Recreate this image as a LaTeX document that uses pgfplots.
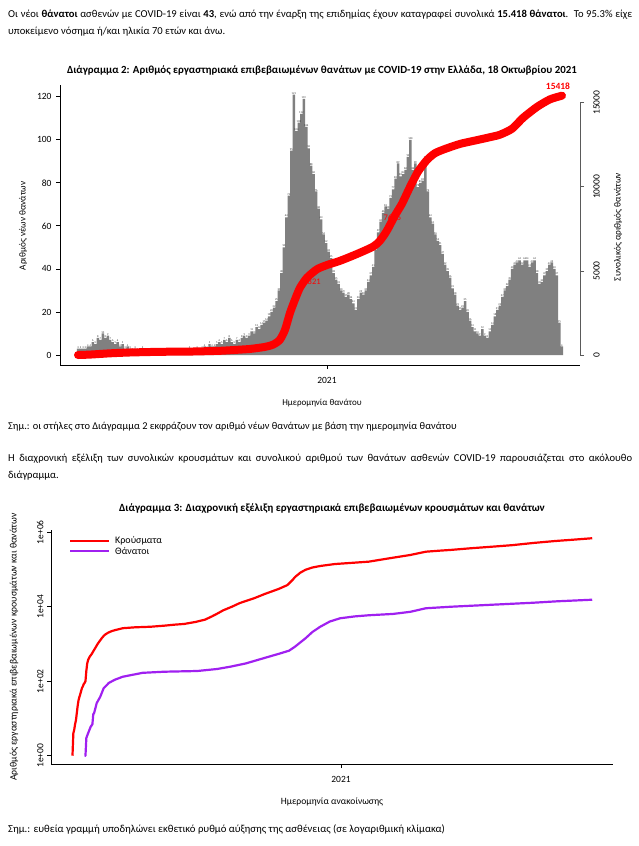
\documentclass[border=0pt]{standalone}
\usepackage{fontspec}
\setmainfont{Carlito}
\usepackage{pgfplots}
\pgfplotsset{compat=1.18}
\definecolor{bargray}{RGB}{128,128,128}
\definecolor{rred}{RGB}{255,0,0}
\definecolor{rpurple}{RGB}{160,32,240}
\definecolor{axgray}{RGB}{90,90,90}
\newcommand{\fs}[1]{\fontsize{#1bp}{#1bp}\selectfont}
\begin{document}
\begin{tikzpicture}[x=1bp,y=1bp]
\path[use as bounding box] (0,0) rectangle (639,-846);
% ---------- body text ----------
\node[anchor=west, inner sep=0, font=\fs{10.6}] at (8,-15) {\makebox[624bp][s]{Οι νέοι \textbf{θάνατοι} ασθενών με COVID-19 είναι \textbf{43}, ενώ από την έναρξη της επιδημίας έχουν καταγραφεί συνολικά \textbf{15.418 θάνατοι}.\ \ Το 95.3\% είχε}};
\node[anchor=west, inner sep=0, font=\fs{10.6}] at (8,-32) {υποκείμενο νόσημα ή/και ηλικία 70 ετών και άνω.};
\node[font=\bfseries\fs{10.9}, inner sep=0] at (322,-70) {Διάγραμμα 2: Αριθμός εργαστηριακά επιβεβαιωμένων θανάτων με COVID-19 στην Ελλάδα, 18 Οκτωβρίου 2021};
\node[anchor=west, inner sep=0, font=\fs{10.4}] at (8,-427) {Σημ.: οι στήλες στο Διάγραμμα 2 εκφράζουν τον αριθμό νέων θανάτων με βάση την ημερομηνία θανάτου};
\node[anchor=west, inner sep=0, font=\fs{10.6}] at (8,-459) {\makebox[624bp][s]{Η διαχρονική εξέλιξη των συνολικών κρουσμάτων και συνολικού αριθμού των θανάτων ασθενών COVID-19 παρουσιάζεται στο ακόλουθο}};
\node[anchor=west, inner sep=0, font=\fs{10.6}] at (8,-476) {διάγραμμα.};
\node[font=\bfseries\fs{11}, inner sep=0] at (332,-508) {Διάγραμμα 3: Διαχρονική εξέλιξη εργαστηριακά επιβεβαιωμένων κρουσμάτων και θανάτων};
\node[anchor=west, inner sep=0, font=\fs{10.7}] at (8,-829) {Σημ.: ευθεία γραμμή υποδηλώνει εκθετικό ρυθμό αύξησης της ασθένειας (σε λογαριθμική κλίμακα)};
% ---------- chart 2 labels ----------
\node[font=\fs{9}, inner sep=0] at (322,-403) {Ημερομηνία θανάτου};
\node[font=\fs{9.3}, inner sep=0, rotate=90] at (23,-226) {Αριθμός νέων θανάτων};
\node[font=\fs{9.4}, inner sep=0, rotate=90] at (618,-227) {Συνολικός αριθμός θανάτων};
% ---------- chart 2: daily deaths ----------
\begin{axis}[
  at={(60bp,-365bp)}, anchor=south west, scale only axis,
  width=520bp, height=280bp,
  xmin=-21.77, xmax=607, ymin=-4.646, ymax=125.44,
  axis x line*=bottom, axis y line*=left,
  axis line style={black, line width=0.8bp},
  tick style={black, line width=0.8bp}, tick align=outside, major tick length=4bp,
  xtick={301}, xticklabels={2021},
  ytick={0,20,40,60,80,100,120},
  ticklabel style={font=\fs{9.5}},
  /pgf/number format/assume math mode=true,
  yticklabel style={anchor=east, xshift=-1bp},
  xticklabel style={yshift=-5bp},
  ybar, bar width=3,
  clip=false,
]
\addplot[fill=bargray, draw=none, nodes near coords,
  every node near coord/.append style={font=\fs{2.8}, text=black!80, inner sep=0.2bp}]
coordinates {
(0,3) (3,3) (6,3) (9,3) (12,4) (15,4) (18,6) (21,5) (24,8) (27,7) (30,10) (33,8) (36,9) (39,7) (42,6) (45,5) (48,6) (51,4) (54,5) (57,3)
(60,4) (63,3) (66,2) (69,3) (72,2) (75,2) (78,3) (81,2) (84,2) (87,1) (90,2) (93,1) (96,2) (99,1) (102,2) (105,1) (108,1) (111,2) (114,1) (117,2)
(120,1) (123,2) (126,2) (129,1) (132,2) (135,3) (138,2) (141,2) (144,3) (147,2) (150,3) (153,4) (156,3) (159,5) (162,4) (165,4) (168,5) (171,6) (174,5) (177,7)
(180,6) (183,8) (186,6) (189,5) (192,7) (195,6) (198,8) (201,9) (204,8) (207,9) (210,11) (213,10) (216,13) (219,12) (222,14) (225,15) (228,16) (231,18) (234,20) (237,22)
(240,25) (243,30) (246,38) (249,50) (252,64) (255,74) (258,95) (261,121) (264,104) (267,108) (270,112) (273,119) (276,106) (279,96) (282,88) (285,84) (288,76) (291,68) (294,63) (297,56)
(300,52) (303,48) (306,45) (309,38) (312,35) (315,33) (318,30) (321,29) (324,27) (327,28) (330,26) (333,24) (336,21) (339,26) (342,29) (345,28) (348,30) (351,34) (354,37) (357,41)
(360,49) (363,57) (366,62) (369,66) (372,69) (375,68) (378,73) (381,77) (384,82) (387,89) (390,83) (393,84) (396,86) (399,92) (402,100) (405,86) (408,89) (411,78) (414,80) (417,81)
(420,91) (423,76) (426,64) (429,61) (432,56) (435,53) (438,51) (441,47) (444,42) (447,39) (450,36) (453,31) (456,28) (459,23) (462,21) (465,22) (468,25) (471,20) (474,16) (477,13)
(480,11) (483,10) (486,9) (489,12) (492,9) (495,8) (498,11) (501,14) (504,18) (507,21) (510,23) (513,27) (516,30) (519,32) (522,35) (525,40) (528,42) (531,43) (534,44) (537,42)
(540,44) (543,44) (546,41) (549,43) (552,44) (555,38) (558,33) (561,34) (564,37) (567,39) (570,42) (573,43) (576,40) (579,37) (582,15) (585,4)
};
\node[text=rred, font=\fs{8.5}] at (axis cs:283,34) {3821};
\node[text=rred, font=\fs{8.5}] at (axis cs:380,64) {7696};
\end{axis}
% ---------- chart 2: cumulative deaths ----------
\begin{axis}[
  at={(60bp,-355bp)}, anchor=south west, scale only axis,
  width=520bp, height=252.3bp,
  xmin=-21.77, xmax=607, ymin=0, ymax=15000,
  axis x line=none, axis y line*=right,
  y axis line style={axgray, line width=0.8bp},
  ytick style={axgray, line width=0.8bp}, tick align=outside, major tick length=4bp,
  ytick={0,5000,10000,15000}, yticklabels={0,5000,10000,15000},
  scaled y ticks=false,
  yticklabel style={font=\fs{9.5}, rotate=90, anchor=north},
  yticklabel shift=6bp,
  /pgf/number format/assume math mode=true,
  clip=false,
]
\addplot[rred, line width=8bp, line cap=round, smooth, tension=0.4] coordinates {
(0,0) (14.5,25) (38.7,100) (62.9,150) (99.2,190) (135.4,205) (171.7,250) (195.9,320) (208,360) (226,480) (236,620) (244,900)
(250.3,1500) (256.3,2500) (262.4,3300) (268.4,4000) (276.9,4600) (289,5100) (301.1,5350) (316.8,5600) (337,6000) (356.7,6440)
(365.2,6800) (373.6,7400) (383.3,8300) (391.8,9000) (401.5,10000) (411.1,10900) (422,11600) (431.7,12000) (443.8,12250)
(461.9,12550) (480,12750) (498.2,12950) (510.3,13100) (524.8,13450) (538.1,14100) (555,14750) (570.7,15200) (585.2,15418)
};
\node[text=rred, font=\bfseries\fs{9.5}] at (axis cs:580.4,15993) {15418};
\end{axis}
% ---------- chart 3 ----------
\node[font=\fs{9.6}, inner sep=0] at (332,-802) {Ημερομηνία ανακοίνωσης};
\node[font=\fs{9.8}, inner sep=0, rotate=90] at (14,-647) {Αριθμός εργαστηριακά επιβεβαιωμένων κρουσμάτων και θανάτων};
\begin{axis}[
  at={(51bp,-764bp)}, anchor=south west, scale only axis,
  width=562bp, height=234bp,
  xmin=-24.8, xmax=624, ymode=log, ymin=0.599, ymax=1.146e6,
  axis x line*=bottom, axis y line*=left,
  axis line style={black, line width=0.8bp},
  tick style={black, line width=0.8bp}, tick align=outside, major tick length=4bp,
  xtick={310}, xticklabels={2021},
  ytick={1,100,10000,1000000}, yticklabels={1e+00,1e+02,1e+04,1e+06},
  yminorticks=false,
  ticklabel style={font=\fs{9.5}},
  /pgf/number format/assume math mode=true,
  yticklabel style={rotate=90, anchor=south},
  xticklabel style={yshift=-5bp},
  clip=false,
]
\addplot[rred, line width=2.2bp, line join=round] coordinates {
(0,1) (1,4) (2,5) (3,7) (4,9) (5,14) (6,22) (7,31) (8,38) (9,45) (10,55) (11,66) (12,73) (13,84) (14,90) (15,100)
(16,190) (17,300) (18,370) (20,460) (22,530) (25,695) (27,830) (29,1000) (32,1250) (34,1450) (37,1740) (41,2000) (45,2200) (49,2350)
(58,2650) (72,2800) (90,2900) (106,3100) (118,3300) (129,3450) (142,3900) (153,4500) (161,5500) (167,6500) (174,8000) (184,10000)
(193,12500) (210,17000) (222,22000) (238,30000) (248,38000) (254,52000) (257,63000) (263,82000) (269,98000) (277,113000) (286,124000)
(303,140000) (318,148000) (342,162000) (366,200000) (390,245000) (408,300000) (424,320000) (437,335000) (459,370000) (484,408000)
(508,450000) (532,515000) (557,580000) (580,635000) (600,690000)
};
\addplot[rpurple, line width=2.2bp, line join=round] coordinates {
(14,1) (15,1) (16,3) (18,4) (21,6) (23,7) (24,13) (25,14) (28,26) (32,38) (36,65) (42,90) (49,110) (58,132) (81,168) (106,180)
(144,188) (167,213) (182,245) (200,300) (223,430) (240,560) (250,660) (257,850) (263,1100) (269,1420) (277,2100) (286,2900)
(297,4000) (309,4900) (326,5500) (342,5900) (370,6400) (390,7300) (408,9100) (437,10000) (484,11300) (532,12800) (560,14000) (600,15418)
};
\end{axis}
% legend
\draw[rred, line width=2.2bp] (70,-540.7) -- (109,-540.7);
\draw[rpurple, line width=2.2bp] (70,-550.7) -- (109,-550.7);
\node[anchor=west, inner sep=0, font=\fs{10}] at (115,-540.7) {Κρούσματα};
\node[anchor=west, inner sep=0, font=\fs{10}] at (115,-550.7) {Θάνατοι};
\end{tikzpicture}
\end{document}
